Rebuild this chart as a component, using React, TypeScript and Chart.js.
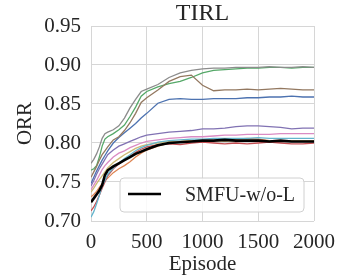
import React, { useEffect, useRef } from "react";
import { Chart, registerables } from "chart.js";

Chart.register(...registerables);

const TITLE = "TIRL";
const X_LABEL = "Episode";
const Y_LABEL = "ORR";
const LEGEND_LABEL = "SMFU-w/o-L";
const X_TICKS = [0, 500, 1000, 1500, 2000];
const Y_TICKS = [0.7, 0.75, 0.8, 0.85, 0.9, 0.95];

const episodes = [0, 25, 50, 75, 100, 125, 150, 200, 250, 300, 350, 400, 450, 500, 600, 700, 800, 900, 1000, 1100, 1200, 1300, 1400, 1500, 1600, 1700, 1800, 1900, 2000];

const smfuWoL = [0.724, 0.729, 0.734, 0.739, 0.746, 0.759, 0.765, 0.770, 0.774, 0.778, 0.782, 0.786, 0.789, 0.792, 0.797, 0.800, 0.801, 0.802, 0.803, 0.803, 0.804, 0.803, 0.803, 0.803, 0.802, 0.803, 0.802, 0.802, 0.802];
const blueSeries = [0.748, 0.756, 0.764, 0.771, 0.778, 0.784, 0.790, 0.800, 0.807, 0.813, 0.819, 0.825, 0.832, 0.838, 0.851, 0.856, 0.857, 0.856, 0.856, 0.857, 0.857, 0.857, 0.858, 0.858, 0.859, 0.859, 0.860, 0.859, 0.859];
const orangeSeries = [0.731, 0.734, 0.738, 0.743, 0.748, 0.752, 0.755, 0.762, 0.767, 0.771, 0.776, 0.782, 0.787, 0.791, 0.796, 0.800, 0.802, 0.803, 0.802, 0.803, 0.804, 0.805, 0.806, 0.805, 0.803, 0.803, 0.802, 0.803, 0.803];
const greenSeries = [0.765, 0.767, 0.771, 0.782, 0.796, 0.805, 0.808, 0.812, 0.817, 0.823, 0.834, 0.846, 0.860, 0.866, 0.872, 0.876, 0.879, 0.884, 0.890, 0.893, 0.894, 0.895, 0.896, 0.896, 0.897, 0.897, 0.896, 0.897, 0.897];
const redSeries = [0.713, 0.718, 0.725, 0.733, 0.742, 0.750, 0.758, 0.767, 0.773, 0.778, 0.783, 0.788, 0.792, 0.795, 0.798, 0.799, 0.798, 0.800, 0.801, 0.800, 0.799, 0.800, 0.799, 0.800, 0.801, 0.800, 0.799, 0.799, 0.800];
const purpleSeries = [0.745, 0.752, 0.760, 0.767, 0.773, 0.779, 0.785, 0.791, 0.796, 0.799, 0.802, 0.805, 0.808, 0.810, 0.812, 0.814, 0.815, 0.816, 0.818, 0.818, 0.819, 0.821, 0.822, 0.822, 0.821, 0.820, 0.818, 0.819, 0.819];
const brownSeries = [0.756, 0.763, 0.770, 0.778, 0.785, 0.790, 0.795, 0.804, 0.808, 0.816, 0.826, 0.838, 0.852, 0.858, 0.868, 0.879, 0.885, 0.887, 0.874, 0.867, 0.868, 0.868, 0.869, 0.868, 0.869, 0.870, 0.869, 0.868, 0.868];
const pinkSeries = [0.740, 0.746, 0.752, 0.759, 0.766, 0.771, 0.775, 0.782, 0.787, 0.790, 0.794, 0.797, 0.800, 0.802, 0.804, 0.806, 0.807, 0.808, 0.808, 0.809, 0.810, 0.810, 0.811, 0.811, 0.811, 0.812, 0.812, 0.812, 0.812];
const graySeries = [0.774, 0.779, 0.786, 0.795, 0.806, 0.812, 0.814, 0.817, 0.822, 0.832, 0.845, 0.856, 0.866, 0.869, 0.875, 0.884, 0.890, 0.893, 0.895, 0.896, 0.896, 0.897, 0.897, 0.897, 0.898, 0.897, 0.897, 0.898, 0.897];
const oliveSeries = [0.737, 0.742, 0.748, 0.753, 0.758, 0.763, 0.768, 0.775, 0.780, 0.785, 0.789, 0.793, 0.796, 0.798, 0.800, 0.802, 0.802, 0.803, 0.803, 0.803, 0.802, 0.803, 0.804, 0.803, 0.803, 0.802, 0.803, 0.803, 0.803];
const cyanSeries = [0.705, 0.712, 0.722, 0.733, 0.745, 0.752, 0.760, 0.768, 0.774, 0.780, 0.785, 0.790, 0.794, 0.797, 0.801, 0.803, 0.804, 0.805, 0.805, 0.806, 0.806, 0.806, 0.806, 0.807, 0.806, 0.806, 0.806, 0.806, 0.806];

const coloredSeries = [
  { values: blueSeries, color: "#4c72b0" },
  { values: orangeSeries, color: "#dd8452" },
  { values: greenSeries, color: "#55a868" },
  { values: redSeries, color: "#c44e52" },
  { values: purpleSeries, color: "#8172b3" },
  { values: brownSeries, color: "#937860" },
  { values: pinkSeries, color: "#da8bc3" },
  { values: graySeries, color: "#8c8c8c" },
  { values: oliveSeries, color: "#ccb974" },
  { values: cyanSeries, color: "#64b5cd" },
];

const FONT = "'Liberation Serif', 'Times New Roman', serif";
const TEXT = "#262626";
const GRID = "#d6d6d6";

const titlePlugin = {
  id: "plotTitle",
  afterDraw(chart: any) {
    const { ctx, chartArea } = chart;
    ctx.save();
    ctx.fillStyle = TEXT;
    ctx.font = `24px ${FONT}`;
    ctx.textAlign = "center";
    ctx.textBaseline = "alphabetic";
    ctx.fillText(TITLE, (chartArea.left + chartArea.right) / 2, 20);
    ctx.restore();
  },
};

const legendPlugin = {
  id: "customLegend",
  afterDraw(chart: any) {
    const { ctx, chartArea } = chart;
    const w = 184;
    const h = 34;
    const x = chartArea.right - 10 - w;
    const y = chartArea.bottom - 9 - h;
    ctx.save();
    const r = 4;
    ctx.beginPath();
    ctx.moveTo(x + r, y);
    ctx.lineTo(x + w - r, y);
    ctx.arcTo(x + w, y, x + w, y + r, r);
    ctx.lineTo(x + w, y + h - r);
    ctx.arcTo(x + w, y + h, x + w - r, y + h, r);
    ctx.lineTo(x + r, y + h);
    ctx.arcTo(x, y + h, x, y + h - r, r);
    ctx.lineTo(x, y + r);
    ctx.arcTo(x, y, x + r, y, r);
    ctx.closePath();
    ctx.fillStyle = "rgba(255,255,255,0.85)";
    ctx.fill();
    ctx.strokeStyle = "#d0d0d0";
    ctx.lineWidth = 1;
    ctx.stroke();
    ctx.beginPath();
    ctx.moveTo(x + 8, y + 16);
    ctx.lineTo(x + 41, y + 16);
    ctx.strokeStyle = "#000000";
    ctx.lineWidth = 2.6;
    ctx.stroke();
    ctx.fillStyle = TEXT;
    ctx.font = `20px ${FONT}`;
    ctx.textBaseline = "alphabetic";
    ctx.textAlign = "left";
    ctx.fillText(LEGEND_LABEL, x + 65, y + 23);
    ctx.restore();
  },
};

export default function App() {
  const canvasRef = useRef<HTMLCanvasElement | null>(null);

  useEffect(() => {
    document.body.style.margin = "0";
    const canvas = canvasRef.current;
    if (!canvas) return;

    const datasets: any[] = [
      {
        label: LEGEND_LABEL,
        data: episodes.map((e, i) => ({ x: e, y: smfuWoL[i] })),
        borderColor: "#000000",
        borderWidth: 2.6,
        pointRadius: 0,
        tension: 0,
        order: 0,
      },
      ...coloredSeries.map((s, k) => ({
        label: "s" + k,
        data: episodes.map((e, i) => ({ x: e, y: s.values[i] })),
        borderColor: s.color,
        borderWidth: 1.3,
        pointRadius: 0,
        tension: 0,
        order: coloredSeries.length - k,
      })),
    ];

    const chart = new Chart(canvas, {
      type: "line",
      data: { datasets },
      options: {
        animation: false,
        responsive: true,
        maintainAspectRatio: false,
        layout: { padding: { left: 0, right: 27, top: 26, bottom: 0 } },
        plugins: {
          legend: { display: false },
          tooltip: { enabled: false },
          title: { display: false },
        },
        scales: {
          x: {
            type: "linear",
            min: 0,
            max: 2000,
            afterBuildTicks: (scale: any) => {
              scale.ticks = X_TICKS.map((v) => ({ value: v }));
            },
            afterFit: (scale: any) => {
              scale.height = 58;
            },
            ticks: {
              color: TEXT,
              font: { family: FONT, size: 21 },
              padding: 9,
              maxRotation: 0,
              autoSkip: false,
              callback: (v: any) => String(v),
            },
            grid: { color: GRID, lineWidth: 1, drawTicks: false },
            border: { display: false },
            title: {
              display: true,
              text: X_LABEL,
              color: TEXT,
              font: { family: FONT, size: 21 },
              padding: { top: 0, bottom: 2 },
            },
          },
          y: {
            type: "linear",
            min: 0.7,
            max: 0.95,
            afterBuildTicks: (scale: any) => {
              scale.ticks = Y_TICKS.map((v) => ({ value: v }));
            },
            afterFit: (scale: any) => {
              scale.width = 91;
            },
            ticks: {
              color: TEXT,
              font: { family: FONT, size: 21 },
              padding: 10,
              autoSkip: false,
              callback: (v: any) => Number(v).toFixed(2),
            },
            grid: { color: GRID, lineWidth: 1, drawTicks: false },
            border: { display: false },
            title: {
              display: true,
              text: Y_LABEL,
              color: TEXT,
              font: { family: FONT, size: 21 },
              padding: { top: 13, bottom: 0 },
            },
          },
        },
      },
      plugins: [titlePlugin, legendPlugin],
    });

    return () => chart.destroy();
  }, []);

  return (
    <div style={{ position: "fixed", left: 0, top: 0, width: 344, height: 279 }}>
      <canvas ref={canvasRef} />
    </div>
  );
}
